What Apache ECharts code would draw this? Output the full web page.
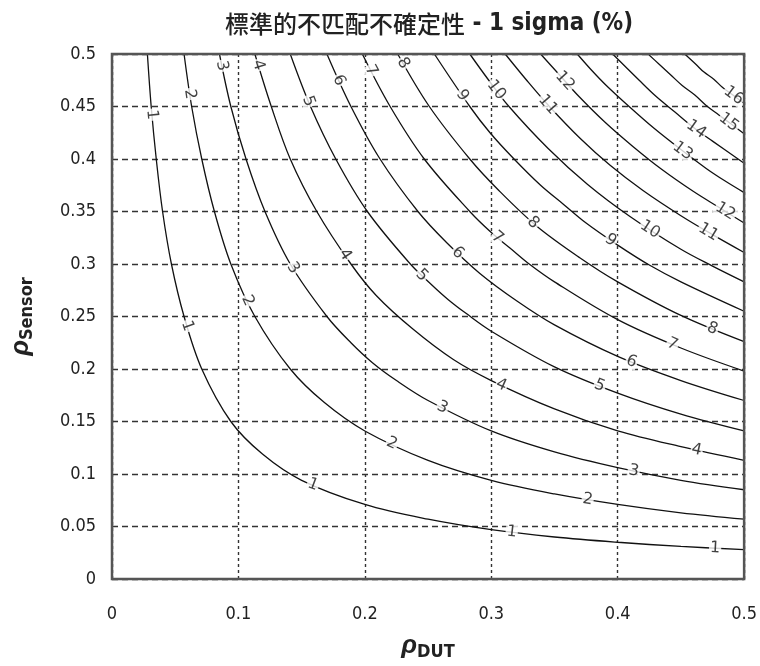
<!DOCTYPE html>
<html>
<head>
<meta charset="utf-8">
<script src="https://cdn.jsdelivr.net/npm/echarts@6/dist/echarts.min.js"></script>
<style>
  html, body { margin: 0; padding: 0; background: #fff; }
  #chart { width: 760px; height: 666px; }
</style>
</head>
<body>
<div id="chart"></div>
<script>
// Contour lines of the 1-sigma mismatch uncertainty (%), [rhoDUT, rhoSensor] pairs
const c1 = [[0.028,0.5],[0.031,0.45],[0.035,0.4],[0.040,0.35],[0.047,0.3],[0.057,0.25],[0.071,0.2],[0.094,0.15],[0.119,0.119],[0.15,0.094],[0.2,0.071],[0.25,0.057],[0.3,0.047],[0.35,0.040],[0.4,0.035],[0.45,0.031],[0.5,0.028]];
const c2 = [[0.057,0.5],[0.063,0.45],[0.071,0.4],[0.081,0.35],[0.094,0.3],[0.113,0.25],[0.141,0.2],[0.168,0.168],[0.2,0.141],[0.25,0.113],[0.3,0.094],[0.35,0.081],[0.4,0.071],[0.45,0.063],[0.5,0.057]];
const c3 = [[0.085,0.5],[0.094,0.45],[0.106,0.4],[0.121,0.35],[0.141,0.3],[0.170,0.25],[0.189,0.225],[0.206,0.206],[0.225,0.189],[0.25,0.170],[0.3,0.141],[0.35,0.121],[0.4,0.106],[0.45,0.094],[0.5,0.085]];
const c4 = [[0.113,0.5],[0.126,0.45],[0.141,0.4],[0.162,0.35],[0.189,0.3],[0.209,0.27],[0.238,0.238],[0.27,0.209],[0.3,0.189],[0.35,0.162],[0.4,0.141],[0.45,0.126],[0.5,0.113]];
const c5 = [[0.141,0.5],[0.157,0.45],[0.177,0.4],[0.202,0.35],[0.236,0.3],[0.253,0.28],[0.266,0.266],[0.28,0.253],[0.3,0.236],[0.35,0.202],[0.4,0.177],[0.45,0.157],[0.5,0.141]];
const c6 = [[0.170,0.5],[0.189,0.45],[0.212,0.4],[0.242,0.35],[0.265,0.32],[0.291,0.291],[0.32,0.265],[0.35,0.242],[0.4,0.212],[0.45,0.189],[0.5,0.170]];
const c7 = [[0.198,0.5],[0.220,0.45],[0.247,0.4],[0.283,0.35],[0.3,0.33],[0.315,0.315],[0.33,0.3],[0.35,0.283],[0.4,0.247],[0.45,0.220],[0.5,0.198]];
const c8 = [[0.226,0.5],[0.251,0.45],[0.283,0.4],[0.306,0.37],[0.336,0.336],[0.37,0.306],[0.4,0.283],[0.45,0.251],[0.5,0.226]];
const c9 = [[0.255,0.5],[0.283,0.45],[0.299,0.425],[0.318,0.4],[0.339,0.375],[0.357,0.357],[0.375,0.339],[0.4,0.318],[0.425,0.299],[0.45,0.283],[0.5,0.255]];
const c10 = [[0.283,0.5],[0.298,0.475],[0.314,0.45],[0.345,0.41],[0.376,0.376],[0.41,0.345],[0.45,0.314],[0.475,0.298],[0.5,0.283]];
const c11 = [[0.311,0.5],[0.328,0.475],[0.346,0.45],[0.370,0.42],[0.394,0.394],[0.42,0.370],[0.45,0.346],[0.475,0.328],[0.5,0.311]];
const c12 = [[0.339,0.5],[0.354,0.48],[0.369,0.46],[0.390,0.435],[0.412,0.412],[0.435,0.390],[0.46,0.369],[0.48,0.354],[0.5,0.339]];
const c13 = [[0.368,0.5],[0.379,0.485],[0.391,0.47],[0.409,0.45],[0.429,0.429],[0.45,0.409],[0.47,0.391],[0.485,0.379],[0.5,0.368]];
const c14 = [[0.396,0.5],[0.417,0.475],[0.430,0.46],[0.445,0.445],[0.46,0.430],[0.475,0.417],[0.5,0.396]];
const c15 = [[0.424,0.5],[0.433,0.49],[0.442,0.48],[0.451,0.47],[0.461,0.461],[0.47,0.451],[0.48,0.442],[0.49,0.433],[0.5,0.424]];
const c16 = [[0.453,0.5],[0.462,0.49],[0.468,0.483],[0.476,0.476],[0.483,0.468],[0.49,0.462],[0.5,0.453]];

const levels = [1,2,3,4,5,6,7,8,9,10,11,12,13,14,15,16];
const contours = [c1,c2,c3,c4,c5,c6,c7,c8,c9,c10,c11,c12,c13,c14,c15,c16];

// Where the level numbers sit on the contours: [rhoDUT, rhoSensor, level]
const contourLabels = [
  [0.030,0.442,1],[0.055,0.239,1],[0.158,0.087,1],[0.316,0.043,1],[0.477,0.028,1],
  [0.057,0.461,2],[0.107,0.265,2],[0.219,0.123,2],[0.376,0.074,2],
  [0.084,0.488,3],[0.142,0.295,3],[0.260,0.160,3],[0.412,0.099,3],
  [0.112,0.488,4],[0.182,0.307,4],[0.307,0.182,4],[0.462,0.120,4],
  [0.153,0.454,5],[0.244,0.288,5],[0.385,0.182,5],
  [0.176,0.473,6],[0.273,0.310,6],[0.410,0.204,6],
  [0.203,0.483,7],[0.304,0.324,7],[0.443,0.223,7],
  [0.226,0.488,8],[0.332,0.338,8],[0.474,0.236,8],
  [0.275,0.459,9],[0.394,0.322,9],
  [0.302,0.464,10],[0.424,0.330,10],
  [0.345,0.452,11],[0.470,0.327,11],
  [0.357,0.473,12],[0.484,0.348,12],
  [0.451,0.407,13],[0.459,0.423,14],[0.488,0.435,15],[0.489,0.456,16]
];

const xTicks = { min: 0, max: 0.5, interval: 0.1 };
const yTicks = { min: 0, max: 0.5, interval: 0.05 };

const NARROW = "'Liberation Sans Narrow', 'DejaVu Sans Condensed', 'Roboto', sans-serif";

const chart = echarts.init(document.getElementById('chart'), null, { renderer: 'canvas' });

const lineSeries = contours.map((pts, i) => ({
  type: 'line',
  name: String(levels[i]),
  data: pts,
  showSymbol: false,
  smooth: 0.35,
  silent: true,
  lineStyle: { color: '#111', width: 1.3 },
  z: 3
}));

const axisNameRich = {
  r: { fontFamily: "'Liberation Sans', sans-serif", fontSize: 26, fontWeight: 'bold', fontStyle: 'italic', color: '#222' },
  s: { fontFamily: NARROW, fontSize: 18, fontWeight: 'bold', color: '#222', padding: [12, 0, 0, 0] }
};

const option = {
  animation: false,
  backgroundColor: '#fff',
  title: {
    text: '{a|標準的不匹配不確定性}{b| - 1 sigma (%)}',
    left: 424,
    textAlign: 'center',
    top: 7,
    textStyle: {
      rich: {
        a: { fontFamily: "'Noto Sans CJK TC', 'Noto Sans CJK SC', sans-serif", fontSize: 24, color: '#222', fontWeight: 500 },
        b: { fontFamily: NARROW, fontSize: 24, color: '#222', fontWeight: 'bold' }
      }
    }
  },
  grid: { left: 109, right: 9, top: 54, bottom: 84, show: false },
  xAxis: {
    type: 'value',
    min: xTicks.min, max: xTicks.max, interval: xTicks.interval,
    axisLine: { show: false },
    axisTick: { show: false },
    splitLine: { show: true, lineStyle: { color: '#333', width: 1.4, type: [3, 3] } },
    axisLabel: { fontFamily: NARROW, fontSize: 18, color: '#222', margin: 26 },
    name: '{r|ρ}{s|DUT}',
    nameLocation: 'middle',
    nameGap: 52,
    nameTextStyle: { rich: axisNameRich }
  },
  yAxis: {
    type: 'value',
    min: yTicks.min, max: yTicks.max, interval: yTicks.interval,
    axisLine: { show: false },
    axisTick: { show: false },
    splitLine: { show: true, lineStyle: { color: '#333', width: 1.4, type: [6, 4] } },
    axisLabel: { fontFamily: NARROW, fontSize: 18, color: '#222', margin: 16 },
    name: '{r|ρ}{s|Sensor}',
    nameLocation: 'middle',
    nameRotate: 90,
    nameGap: 76,
    nameTextStyle: { rich: axisNameRich }
  },
  series: lineSeries
};

chart.setOption(option);

// Place each level number on its contour, turned along the local direction of the line
function placeLabel(x, y, lv) {
  const pts = contours[lv - 1].map(p => chart.convertToPixel({ gridIndex: 0 }, p));
  const q = chart.convertToPixel({ gridIndex: 0 }, [x, y]);
  let best = null;
  for (let i = 0; i < pts.length - 1; i++) {
    const a = pts[i], b = pts[i + 1];
    const dx = b[0] - a[0], dy = b[1] - a[1];
    const len2 = dx * dx + dy * dy;
    let t = len2 ? ((q[0] - a[0]) * dx + (q[1] - a[1]) * dy) / len2 : 0;
    t = Math.max(0, Math.min(1, t));
    const px = a[0] + t * dx, py = a[1] + t * dy;
    const d = (px - q[0]) ** 2 + (py - q[1]) ** 2;
    if (!best || d < best.d) best = { d, px, py, ang: Math.atan2(dy, dx) * 180 / Math.PI };
  }
  let rot = -best.ang;
  if (rot > 90) rot -= 180;
  if (rot < -90) rot += 180;
  const v = chart.convertFromPixel({ gridIndex: 0 }, [best.px, best.py]);
  return { value: [v[0], v[1], lv], label: { rotate: rot } };
}

const labelData = contourLabels.map(l => placeLabel(l[0], l[1], l[2]));

const r = chart.getModel().getComponent('grid', 0).coordinateSystem.getRect();

chart.setOption({
  series: lineSeries.concat([{
    type: 'scatter',
    name: 'levels',
    data: labelData,
    symbolSize: 1,
    silent: true,
    itemStyle: { color: 'rgba(0,0,0,0)' },
    z: 5,
    label: {
      show: true,
      position: 'inside',
      formatter: p => String(p.value[2]),
      fontFamily: "'DejaVu Sans', sans-serif",
      fontSize: 16,
      color: '#111',
      backgroundColor: '#fff',
      padding: [0, 1],
      lineHeight: 15
    }
  }]),
  graphic: [{
    type: 'rect',
    shape: { x: r.x, y: r.y, width: r.width, height: r.height },
    style: { fill: 'none', stroke: '#555', lineWidth: 2.5 },
    silent: true,
    z: 100
  }]
});
</script>
</body>
</html>
